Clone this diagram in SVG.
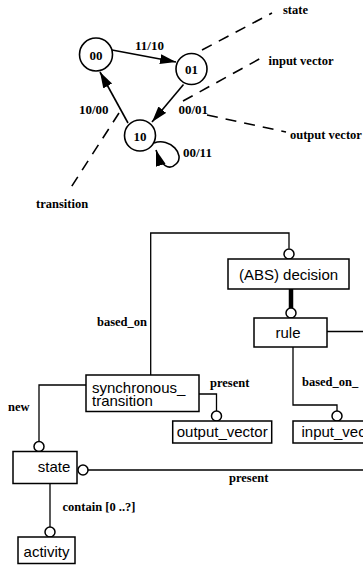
<svg xmlns="http://www.w3.org/2000/svg" width="363" height="566" viewBox="0 0 363 566">
  <style>
    .bg { fill: #ffffff; }
    .st { fill: #ffffff; stroke: #000; stroke-width: 1.6; }
    .edge { fill: none; stroke: #000; stroke-width: 1.6; }
    .dash { fill: none; stroke: #000; stroke-width: 1.6; stroke-dasharray: 11 8; }
    .lbl { font-family: "Liberation Serif", "Times New Roman", serif; font-weight: bold; font-size: 12.5px; fill: #000; }
    .num { font-family: "Liberation Serif", "Times New Roman", serif; font-weight: bold; font-size: 13px; fill: #000; }
    .box { fill: #ffffff; stroke: #000; stroke-width: 1.5; }
    .conn { fill: none; stroke: #000; stroke-width: 1.3; }
    .ring { fill: #ffffff; stroke: #000; stroke-width: 1.5; }
    .name { font-family: "Liberation Sans", Arial, sans-serif; font-size: 15px; fill: #000; }
  </style>
  <defs>
    <marker id="head" markerUnits="userSpaceOnUse" markerWidth="17" markerHeight="11" refX="16" refY="5" orient="auto">
      <path d="M0,0 L16,5 L0,10 Z" fill="#000"/>
    </marker>
  </defs>
  <rect class="bg" x="0" y="0" width="363" height="566"/>

  <!-- state machine sketch -->
  <g id="fsm-connectors">
    <path class="edge" d="M112,50 L176,62" marker-end="url(#head)"/>
    <path class="edge" d="M183.5,84.5 L152,122" marker-end="url(#head)"/>
    <path class="edge" d="M128,123 L100,72" marker-end="url(#head)"/>
    <path class="edge" d="M154,143 C170,137 186,155 176,164 C169,171 161,166 156,150" marker-end="url(#head)"/>
  </g>
  <g id="fsm-s00">
    <circle class="st" cx="96" cy="54.5" r="16.5"/>
    <text class="num" x="96" y="59.5" text-anchor="middle">00</text>
  </g>
  <g id="fsm-s01">
    <circle class="st" cx="191.5" cy="69" r="15.5"/>
    <text class="num" x="191.5" y="74" text-anchor="middle">01</text>
  </g>
  <g id="fsm-s10">
    <circle class="st" cx="140" cy="135.5" r="15.5"/>
    <text class="num" x="140" y="140.5" text-anchor="middle">10</text>
  </g>
  <g id="fsm-labels">
    <text class="num" x="135" y="49.5">11/10</text>
    <text class="num" x="79" y="113.5">10/00</text>
    <text class="num" x="178.5" y="114">00/01</text>
    <text class="num" x="183" y="157">00/11</text>
  </g>

  <!-- callouts -->
  <g id="callouts">
    <path class="dash" d="M202,50 L272,13"/>
    <path class="dash" d="M183,101 L263,57"/>
    <path class="dash" d="M207,115 L286,132"/>
    <path class="dash" d="M119,113 L68,192"/>
    <text class="lbl" x="283" y="13.5">state</text>
    <text class="lbl" x="268.5" y="64.5">input vector</text>
    <text class="lbl" x="290" y="139">output vector</text>
    <text class="lbl" x="36" y="208">transition</text>
  </g>

  <!-- entity relationship model -->
  <g id="connectors">
    <path class="conn" d="M150.7,375 V233 H289 V248.5"/>
    <circle class="ring" cx="289" cy="254" r="5"/>
    <path d="M291,289 V308" fill="none" stroke="#000" stroke-width="4.5"/>
    <circle class="ring" cx="291" cy="313" r="5"/>
    <path class="conn" d="M327,331.5 H363"/>
    <path class="conn" d="M293,347 V405 H337 V411"/>
    <circle class="ring" cx="337" cy="416" r="5"/>
    <path class="conn" d="M199,394 H216.5 V411"/>
    <circle class="ring" cx="216.5" cy="416" r="5"/>
    <path class="conn" d="M86,385 H39 V441"/>
    <circle class="ring" cx="39" cy="446.5" r="5"/>
    <path class="conn" d="M88,470 H363"/>
    <circle class="ring" cx="83" cy="470" r="5"/>
    <path class="conn" d="M50,483.5 V527"/>
    <circle class="ring" cx="50" cy="532" r="5"/>
    <text class="lbl" x="147" y="326" text-anchor="end">based_on</text>
    <text class="lbl" x="302" y="386">based_on_</text>
    <text class="lbl" x="210" y="386.5">present</text>
    <text class="lbl" x="8" y="411">new</text>
    <text class="lbl" x="229" y="481.5">present</text>
    <text class="lbl" x="62.5" y="510.5">contain [0 ..?]</text>
  </g>

  <g id="decision">
    <rect class="box" x="228" y="259" width="121" height="30"/>
    <text class="name" x="288.5" y="280" text-anchor="middle">(ABS) decision</text>
  </g>
  <g id="rule">
    <rect class="box" x="254" y="318" width="73" height="29"/>
    <text class="name" x="288" y="337.5" text-anchor="middle">rule</text>
  </g>
  <g id="synchronous_transition">
    <rect class="box" x="86" y="375" width="113" height="36.5"/>
    <text class="name" x="92" y="392.5">synchronous_</text>
    <text class="name" x="92" y="405.5">transition</text>
  </g>
  <g id="output_vector">
    <rect class="box" x="172.7" y="421" width="99" height="22"/>
    <text class="name" x="222.2" y="437" text-anchor="middle">output_vector</text>
  </g>
  <g id="input_vector">
    <rect class="box" x="293" y="421" width="80" height="22"/>
    <text class="name" x="301.5" y="437">input_vector</text>
  </g>
  <g id="state">
    <rect class="box" x="13" y="451.5" width="64" height="32"/>
    <text class="name" x="54" y="472" text-anchor="middle">state</text>
  </g>
  <g id="activity">
    <rect class="box" x="18" y="537" width="57" height="26.5"/>
    <text class="name" x="46.5" y="556.5" text-anchor="middle">activity</text>
  </g>
</svg>
